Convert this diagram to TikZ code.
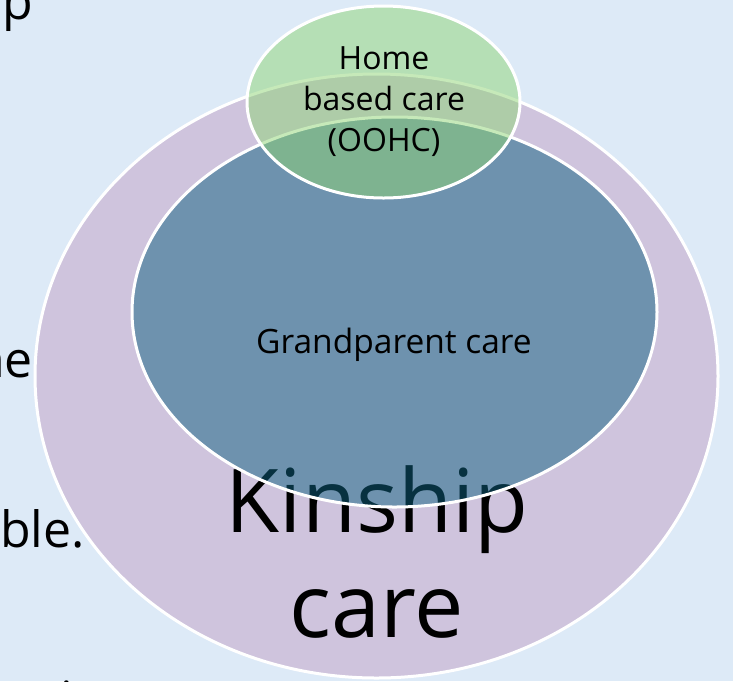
\documentclass[tikz,border=0pt]{standalone}
\usepackage{fontspec}
\setmainfont{Open Sans}
\usetikzlibrary{shapes.geometric}
\definecolor{slidebg}{RGB}{221,234,247}
\definecolor{kinship}{RGB}{207,196,221}
\definecolor{grandparent}{RGB}{15,98,129}
\definecolor{homecare}{RGB}{142,213,116}
\tikzset{
  ring/.style={ellipse, draw=white, line width=3pt, inner sep=0pt},
  slidetext/.style={font=\fontsize{50}{60}\selectfont, inner sep=0pt},
}
\begin{document}
\begin{tikzpicture}[x=1pt, y=-1pt, align=center]
    % Background of the slide
    \fill[slidebg] (0,0) rectangle (733,681);
    \clip (0,0) rectangle (733,681);

    % Slide text behind the diagram
    \node[slidetext, anchor=base east] (linep) at (33,19) {p};
    \node[slidetext, anchor=base east] (linene) at (33,377) {ne};
    \node[slidetext, anchor=base east] (lineble) at (85,547) {ble.};
    \node[slidetext, anchor=base west] (linei) at (60,717) {i};

    % Draw the outer ellipse
    \node[ring, fill=kinship, minimum width=683pt, minimum height=604pt] (kin) at (376.5,376) {};
    \node[font=\fontsize{88}{105}\selectfont] (kinlabel) at (377,552) {Kinship\\care};

    % Draw the inner ellipse
    \node[ring, fill=grandparent, fill opacity=0.5, draw opacity=1,
          minimum width=525pt, minimum height=390pt] (gp) at (394.5,312) {};
    \node[font=\fontsize{33.5}{40}\selectfont, anchor=base] (gplabel) at (394,353) {Grandparent care};

    % Draw the top ellipse
    \node[ring, fill=homecare, fill opacity=0.5, draw opacity=1,
          minimum width=273pt, minimum height=192pt] (home) at (383.5,102) {};
    \node[font=\fontsize{32}{41}\selectfont] (homelabel) at (384,102) {Home\\based care\\(OOHC)};
\end{tikzpicture}
\end{document}
